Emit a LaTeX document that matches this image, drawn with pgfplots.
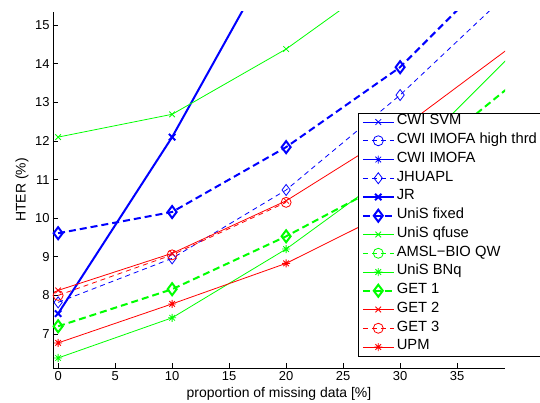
\documentclass[border=0pt]{standalone}
\usepackage{fontspec}
\setmainfont{Liberation Sans}
\usepackage{pgfplots}
\pgfplotsset{compat=1.18}
\pgfdeclareplotmark{mstar}{%
 \pgfpathmoveto{\pgfqpoint{-\pgfplotmarksize}{0pt}}\pgfpathlineto{\pgfqpoint{\pgfplotmarksize}{0pt}}%
 \pgfpathmoveto{\pgfqpoint{0pt}{-\pgfplotmarksize}}\pgfpathlineto{\pgfqpoint{0pt}{\pgfplotmarksize}}%
 \pgfpathmoveto{\pgfqpoint{-0.707\pgfplotmarksize}{-0.707\pgfplotmarksize}}\pgfpathlineto{\pgfqpoint{0.707\pgfplotmarksize}{0.707\pgfplotmarksize}}%
 \pgfpathmoveto{\pgfqpoint{-0.707\pgfplotmarksize}{0.707\pgfplotmarksize}}\pgfpathlineto{\pgfqpoint{0.707\pgfplotmarksize}{-0.707\pgfplotmarksize}}%
 \pgfusepathqstroke}
\begin{document}
\begin{tikzpicture}
\begin{axis}[
 scale only axis, width=452bp, height=356bp,
 xmin=-0.45, xmax=39.2, ymin=6.12, ymax=15.34,
 axis x line*=bottom, axis y line*=left,
 axis line style={black, line width=0.8bp},
 xtick={0,5,...,35}, ytick={7,...,15},
 tick align=inside, major tick length=5bp,
 tick style={black, line width=0.8bp},
 /pgf/number format/assume math mode=true,
 tick label style={font=\fontsize{13}{15}\selectfont},
 xlabel={proportion of missing data [\%]},
 ylabel={HTER (\%)},
 label style={font=\fontsize{14}{16}\selectfont},
 xlabel style={at={(axis description cs:0.5,-0.073)}, anchor=center},
 ylabel style={at={(axis description cs:-0.0686,0.5)}, anchor=center},
 legend style={at={(0.675,0.716)}, anchor=north west, draw=black, fill=white,
   font=\fontsize{14.8}{16}\selectfont, row sep=5.3bp, inner xsep=3.5bp,
   nodes={inner sep=2pt, text depth=0.2em, text height=0.75em}},
 legend cell align=left,
 legend image code/.code={\draw[mark repeat=2,mark phase=2] plot coordinates {(0bp,0bp)(15.5bp,0bp)(31bp,0bp)};},
]
\coordinate (bl) at (rel axis cs:0,0);
\coordinate (tr) at (rel axis cs:1,1);
\addlegendimage{blue, line width=0.8bp, mark=x, mark size=4bp}
\addlegendentry{CWI SVM}
\addlegendimage{blue, line width=0.8bp, dash pattern=on 5bp off 4bp, mark=o, mark size=5bp, mark options={solid}}
\addlegendentry{CWI IMOFA high thrd}
\addlegendimage{blue, line width=0.8bp, mark=mstar, mark size=4bp}
\addlegendentry{CWI IMOFA}
\addplot[blue, line width=0.8bp, dash pattern=on 5bp off 4bp, mark=diamond, mark size=5.5bp, mark options={solid}] coordinates {(0,7.82)(10,8.96)(20,10.73)(30,13.19)(40,15.97)};
\addlegendentry{JHUAPL}
\addplot[blue, line width=2bp, mark=x, mark size=4.5bp] coordinates {(0,7.53)(10,12.1)(20,17.4)};
\addlegendentry{JR}
\addplot[blue, line width=2bp, dash pattern=on 7bp off 4bp, mark=diamond, mark size=6bp, mark options={solid}] coordinates {(0,9.61)(10,10.16)(20,11.84)(30,13.91)(40,16.86)};
\addlegendentry{UniS fixed}
\addplot[green, line width=0.8bp, mark=x, mark size=4bp] coordinates {(0,12.1)(10,12.69)(20,14.38)(30,16.5)};
\addlegendentry{UniS qfuse}
\addlegendimage{green, line width=0.8bp, dash pattern=on 5bp off 4bp, mark=o, mark size=5bp, mark options={solid}}
\addlegendentry{AMSL−BIO QW}
\addplot[green, line width=0.8bp, mark=mstar, mark size=4bp] coordinates {(0,6.38)(10,7.42)(20,9.2)(30,11.35)(40,14.3)};
\addlegendentry{UniS BNq}
\addplot[green, line width=2bp, dash pattern=on 7bp off 4bp, mark=diamond, mark size=6bp, mark options={solid}] coordinates {(0,7.2)(10,8.16)(20,9.53)(30,11.1)(40,13.5)};
\addlegendentry{GET 1}
\addplot[red, line width=0.8bp, mark=x, mark size=4bp] coordinates {(0,8.13)(10,9.09)(20,10.45)(30,12.3)(40,14.5)};
\addlegendentry{GET 2}
\addplot[red, line width=0.8bp, dash pattern=on 5bp off 4bp, mark=o, mark size=5bp, mark options={solid}] coordinates {(0,8.0)(10,9.05)(20,10.41)};
\addlegendentry{GET 3}
\addplot[red, line width=0.8bp, mark=mstar, mark size=4bp] coordinates {(0,6.77)(10,7.78)(20,8.83)(30,10.3)(40,11.8)};
\addlegendentry{UPM}
\end{axis}
\pgfresetboundingbox
\path ([shift={(-53bp,-35bp)}]bl) rectangle ([shift={(35bp,12bp)}]tr);
\end{tikzpicture}
\end{document}
